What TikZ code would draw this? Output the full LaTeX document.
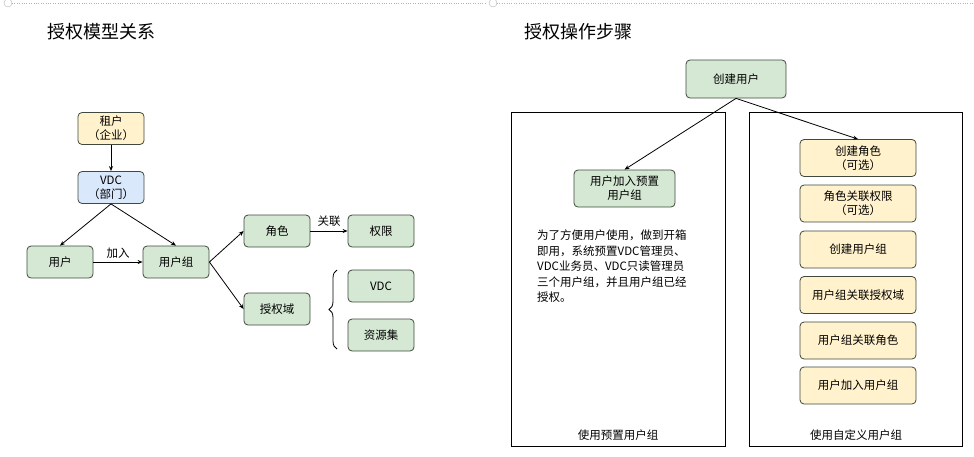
\documentclass[tikz,border=0pt]{standalone}
\usepackage{fontspec}
\setmainfont{Noto Sans CJK SC}
\usetikzlibrary{arrows.meta,decorations.pathreplacing}
\definecolor{gfill}{HTML}{D5E8D4}
\definecolor{gline}{HTML}{3F4A3C}
\definecolor{yfill}{HTML}{FFF2CC}
\definecolor{bfill}{HTML}{DAE8FC}
\tikzset{
  box/.style={draw=gline,thick,rounded corners=4pt,align=center,font=\fontsize{11.5}{14}\selectfont,inner sep=0pt},
  gbox/.style={box,fill=gfill,minimum width=66pt,minimum height=32pt},
  ybox/.style={box,fill=yfill,minimum width=66pt,minimum height=32pt},
  bbox/.style={box,fill=bfill,minimum width=66pt,minimum height=32pt},
  stepbox/.style={box,fill=yfill,minimum width=116pt,minimum height=37pt},
  arr/.style={-{Stealth[length=5pt,width=4pt]},thick},
  frame/.style={draw,thick}
}
\begin{document}
\begin{tikzpicture}[x=1pt,y=-1pt]
\useasboundingbox (0,0) rectangle (974,456);
\draw[gray!60,dotted] (12,3) -- (487,3) (497,3) -- (974,3);
\draw[gray!60] (8,3) circle (4) (493,3) circle (4);

%Model
\node (ttl1) at (101,32) {\fontsize{18}{20}\selectfont 授权模型关系};
\node (tenant) at (111,128.5) [ybox] {租户\\（企业）};
\node (vdc)    at (111,187.5) [bbox] {VDC\\（部门）};
\node (user)   at (60,262)    [gbox] {用户};
\node (group)  at (176,262)   [gbox] {用户组};
\node (role)   at (277,231)   [gbox] {角色};
\node (perm)   at (381,231)   [gbox] {权限};
\node (scope)  at (277,309)   [gbox] {授权域};
\node (svdc)   at (381,286)   [gbox] {VDC};
\node (res)    at (381,335)   [gbox] {资源集};

\draw[arr] (tenant) -- (vdc);
\draw[arr] (vdc.south) -- (user.north);
\draw[arr] (vdc.south) -- (group.north);
\draw[arr] (user) -- node[above,font=\fontsize{11.5}{12}\selectfont] {加入} (group);
\draw[arr] (group.east) -- (role.west);
\draw[arr] (group.east) -- (scope.west);
\draw[arr] (role) -- node[above,font=\fontsize{11.5}{12}\selectfont,yshift=1pt] {关联} (perm);
\coordinate (btop) at (337,270);
\coordinate (bbot) at (337,349);
\draw[thick,decorate,decoration={brace,amplitude=8pt}] (bbot) -- (btop);

%Steps
\node (ttl2) at (578,32) {\fontsize{18}{20}\selectfont 授权操作步骤};
\node (left)  at (618,279) [frame,minimum width=214pt,minimum height=334pt] {};
\node (right) at (855.5,279) [frame,minimum width=213pt,minimum height=334pt] {};
\node (create) at (736,79) [gbox,minimum width=100pt,minimum height=38pt] {创建用户};
\node (preset) at (624.5,188.5) [gbox,minimum width=101pt,minimum height=37pt] {用户加入预置\\用户组};
\node (note) at (537,266.5) [anchor=west,align=left,font=\fontsize{11.5}{15.5}\selectfont,inner sep=0pt]
  {为了方便用户使用，做到开箱\\即用，系统预置VDC管理员、\\VDC业务员、VDC只读管理员\\三个用户组，并且用户组已经\\授权。};
\node (s1) at (858,158)   [stepbox] {创建角色\\（可选）};
\node (s2) at (858,203.5) [stepbox] {角色关联权限\\（可选）};
\node (s3) at (858,249.5) [stepbox] {创建用户组};
\node (s4) at (858,295)   [stepbox] {用户组关联授权域};
\node (s5) at (858,340.5) [stepbox] {用户组关联角色};
\node (s6) at (858,385.5) [stepbox] {用户加入用户组};
\node (lbl1) at (618,435) {\fontsize{11.5}{12}\selectfont 使用预置用户组};
\node (lbl2) at (856,435) {\fontsize{11.5}{12}\selectfont 使用自定义用户组};

\draw[arr] (create.south) -- (preset.north);
\draw[arr] (create.south) -- (s1.north);
\end{tikzpicture}
\end{document}
